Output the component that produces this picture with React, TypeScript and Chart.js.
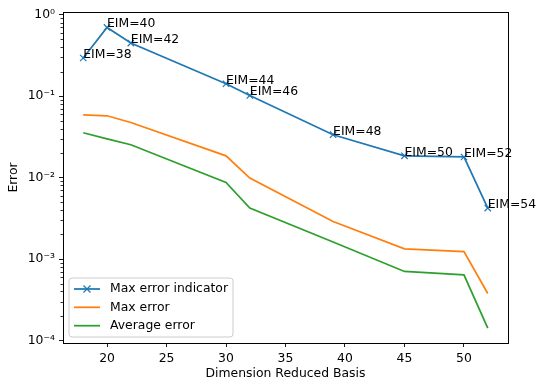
import React, { useEffect, useRef } from 'react';
import { Chart, registerables } from 'chart.js';

Chart.register(...registerables);

const basisSizes = [18, 20, 22, 30, 32, 39, 45, 50, 52];
const maxErrorIndicator = [0.294, 0.698, 0.449, 0.142, 0.102, 0.0336, 0.0185, 0.0179, 0.00422];
const maxError = [0.059, 0.0574, 0.0475, 0.0185, 0.00986, 0.00289, 0.00133, 0.00123, 0.000377];
const averageError = [0.0355, 0.0298, 0.0253, 0.0087, 0.00422, 0.00162, 0.000703, 0.00064, 0.000142];
const eimLabels = ['EIM=38', 'EIM=40', 'EIM=42', 'EIM=44', 'EIM=46', 'EIM=48', 'EIM=50', 'EIM=52', 'EIM=54'];
const seriesNames = ['Max error indicator', 'Max error', 'Average error'];
const xTicks = [20, 25, 30, 35, 40, 45, 50];
const yTicks = [1e-4, 1e-3, 1e-2, 1e-1, 1];

const FONT = '"DejaVu Sans", sans-serif';
const FS = 12.4;
const COLORS = ['#1f77b4', '#ff7f0e', '#2ca02c'];

const SUP: Record<string, string> = { '-': '⁻', '0': '⁰', '1': '¹', '2': '²', '3': '³', '4': '⁴', '5': '⁵', '6': '⁶', '7': '⁷', '8': '⁸', '9': '⁹' };
const fmtPow = (v: number) => {
  const e = Math.round(Math.log10(v));
  return '10' + String(e).split('').map((c) => SUP[c]).join('');
};

function drawX(ctx: CanvasRenderingContext2D, cx: number, cy: number, r: number) {
  ctx.beginPath();
  ctx.moveTo(cx - r, cy - r);
  ctx.lineTo(cx + r, cy + r);
  ctx.moveTo(cx - r, cy + r);
  ctx.lineTo(cx + r, cy - r);
  ctx.stroke();
}

const decor = {
  id: 'decor',
  afterDatasetsDraw(chart: any) {
    const ctx: CanvasRenderingContext2D = chart.ctx;
    const { left, right, top, bottom } = chart.chartArea;
    const xs = chart.scales.x;
    const ys = chart.scales.y;
    ctx.save();
    // minor ticks on log axis
    ctx.strokeStyle = '#000';
    ctx.lineWidth = 0.8;
    for (let e = -5; e <= 0; e++) {
      for (let m = 2; m <= 9; m++) {
        const v = m * Math.pow(10, e);
        if (v < ys.min || v > ys.max) continue;
        const py = Math.round(ys.getPixelForValue(v)) + 0.5;
        ctx.beginPath();
        ctx.moveTo(left, py);
        ctx.lineTo(left - 2.5, py);
        ctx.stroke();
      }
    }
    // frame
    ctx.lineWidth = 1;
    ctx.strokeRect(Math.round(left) + 0.5, Math.round(top) + 0.5, Math.round(right - left), Math.round(bottom - top));
    // annotations
    ctx.font = `${FS}px ${FONT}`;
    ctx.fillStyle = '#000';
    ctx.textAlign = 'left';
    ctx.textBaseline = 'alphabetic';
    basisSizes.forEach((b, i) => {
      ctx.fillText(eimLabels[i], xs.getPixelForValue(b), ys.getPixelForValue(maxErrorIndicator[i]));
    });
    // legend
    const bx = 69, by = 278, bw = 164, bh = 59, r = 3;
    ctx.beginPath();
    ctx.moveTo(bx + r, by);
    ctx.arcTo(bx + bw, by, bx + bw, by + bh, r);
    ctx.arcTo(bx + bw, by + bh, bx, by + bh, r);
    ctx.arcTo(bx, by + bh, bx, by, r);
    ctx.arcTo(bx, by, bx + bw, by, r);
    ctx.closePath();
    ctx.fillStyle = 'rgba(255,255,255,0.8)';
    ctx.fill();
    ctx.strokeStyle = '#cccccc';
    ctx.lineWidth = 1;
    ctx.stroke();
    const rows = [289, 307.3, 325.7];
    chart.data.datasets.forEach((ds: any, i: number) => {
      const yy = rows[i];
      ctx.strokeStyle = ds.borderColor;
      ctx.lineWidth = 1.75;
      ctx.beginPath();
      ctx.moveTo(74, yy);
      ctx.lineTo(100, yy);
      ctx.stroke();
      if (i === 0) {
        ctx.lineWidth = 1.2;
        drawX(ctx, 87, yy, 3.5);
      }
      ctx.fillStyle = '#000';
      ctx.textBaseline = 'middle';
      ctx.fillText(ds.label, 110, yy);
    });
    ctx.restore();
  },
};

export default function App() {
  const ref = useRef<HTMLCanvasElement>(null);
  useEffect(() => {
    if (!ref.current) return;
    Chart.defaults.color = '#000';
    Chart.defaults.font.family = FONT;
    Chart.defaults.font.size = FS;
    const toPts = (arr: number[]) => basisSizes.map((x, i) => ({ x, y: arr[i] }));
    const chart = new Chart(ref.current, {
      type: 'line',
      data: {
        datasets: [
          {
            label: seriesNames[0],
            data: toPts(maxErrorIndicator),
            borderColor: COLORS[0],
            backgroundColor: COLORS[0],
            borderWidth: 1.75,
            pointStyle: 'crossRot',
            pointRadius: 4.5,
            pointBorderWidth: 1.2,
            pointBorderColor: COLORS[0],
            tension: 0,
          },
          {
            label: seriesNames[1],
            data: toPts(maxError),
            borderColor: COLORS[1],
            backgroundColor: COLORS[1],
            borderWidth: 1.75,
            pointRadius: 0,
            tension: 0,
          },
          {
            label: seriesNames[2],
            data: toPts(averageError),
            borderColor: COLORS[2],
            backgroundColor: COLORS[2],
            borderWidth: 1.75,
            pointRadius: 0,
            tension: 0,
          },
        ],
      },
      options: {
        responsive: false,
        animation: false,
        layout: { padding: { left: 0, right: 29, top: 12, bottom: 0 } },
        plugins: { legend: { display: false }, tooltip: { enabled: false } },
        scales: {
          x: {
            type: 'linear',
            min: 16.3,
            max: 53.7,
            afterBuildTicks: (s: any) => {
              s.ticks = xTicks.map((v) => ({ value: v }));
            },
            afterFit: (s: any) => {
              s.height = 43;
            },
            ticks: { padding: 4, maxRotation: 0, autoSkip: false, font: { size: FS, family: FONT } },
            grid: { drawOnChartArea: false, tickLength: 4, tickColor: '#000', tickWidth: 0.9 },
            border: { display: true, color: '#000', width: 1 },
            title: { display: true, text: 'Dimension Reduced Basis', padding: { top: 0, bottom: 5 }, font: { size: FS, family: FONT } },
          },
          y: {
            type: 'logarithmic',
            min: 9.3e-5,
            max: 1.08,
            afterBuildTicks: (s: any) => {
              s.ticks = yTicks.map((v) => ({ value: v, major: true }));
            },
            afterFit: (s: any) => {
              s.width = 63;
            },
            ticks: { padding: 4, autoSkip: false, callback: (v: any) => fmtPow(Number(v)), font: { size: FS, family: FONT } },
            grid: { drawOnChartArea: false, tickLength: 4, tickColor: '#000', tickWidth: 0.9 },
            border: { display: true, color: '#000', width: 1 },
            title: { display: true, text: 'Error', padding: { top: 6, bottom: 0 }, font: { size: FS, family: FONT } },
          },
        },
      },
      plugins: [decor],
    });
    return () => chart.destroy();
  }, []);
  return (
    <div style={{ position: 'fixed', left: 0, top: 0, width: 537, height: 386, background: '#fff' }}>
      <canvas ref={ref} width={537} height={386} style={{ width: 537, height: 386 }} />
    </div>
  );
}
